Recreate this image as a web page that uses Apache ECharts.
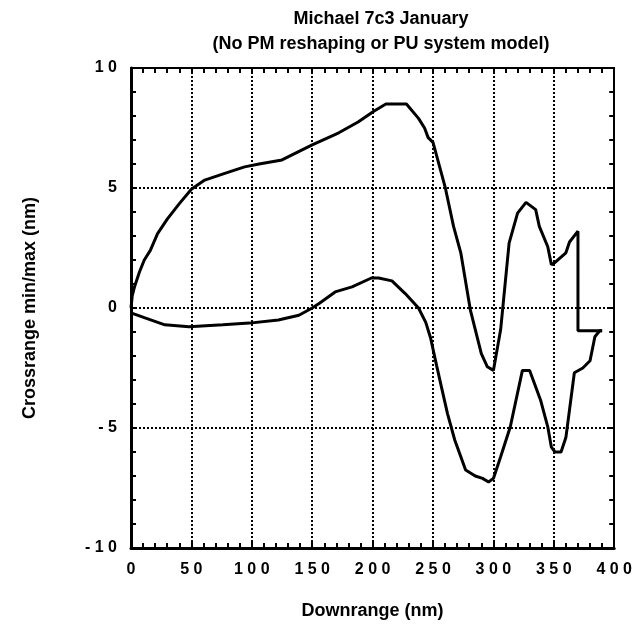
<!DOCTYPE html>
<html>
<head>
<meta charset="utf-8">
<script src="https://cdn.jsdelivr.net/npm/echarts@6/dist/echarts.min.js"></script>
<style>
  html, body { margin: 0; padding: 0; background: #fff; }
  #chart { width: 635px; height: 632px; }
</style>
</head>
<body>
<div id="chart"></div>
<script>
(function(){
  // max crossrange (upper curve), [downrange, crossrange]
  var maxLine = [
    [0, 0], [1, 0.5], [3, 0.9], [7, 1.5], [11, 2.0], [16, 2.4], [22, 3.1], [30, 3.7],
    [40, 4.35], [50, 4.95], [61, 5.33], [77, 5.6], [94, 5.88], [106, 6.0], [125, 6.17],
    [150, 6.8], [172, 7.3], [188, 7.75], [201, 8.2], [211, 8.5], [228, 8.5],
    [238, 7.9], [243, 7.5], [246, 7.1], [250, 6.9], [260, 5.05], [267, 3.4],
    [273, 2.3], [281, -0.1], [290, -1.9], [295, -2.45], [300, -2.6], [306, -0.9],
    [313, 2.7], [320, 3.95], [327, 4.4], [335, 4.1], [338, 3.4], [345, 2.55],
    [348, 1.8], [351, 1.9], [360, 2.3], [363, 2.75], [370, 3.2], [370, -0.95], [390, -0.95]
  ];
  // min crossrange (lower curve)
  var minLine = [
    [0, -0.2], [11, -0.4], [28, -0.7], [48, -0.78], [76, -0.7], [98, -0.63],
    [122, -0.5], [139, -0.3], [150, 0], [156, 0.2], [169, 0.67], [183, 0.88],
    [199, 1.25], [205, 1.25], [216, 1.13], [227, 0.6], [238, 0.0], [244, -0.6],
    [248, -1.25], [253, -2.4], [257, -3.3], [262, -4.4], [268, -5.5], [277, -6.75],
    [285, -7.0], [291, -7.1], [296, -7.25], [300, -7.1], [306, -6.2], [314, -4.95],
    [324, -2.6], [330, -2.6], [339, -3.83], [345, -4.95], [348, -5.8], [351, -6.0],
    [356, -6.0], [360, -5.4], [367, -2.7], [374, -2.5], [380, -2.2], [384, -1.2],
    [388, -0.95], [390, -0.95]
  ];
  var titleLines = ['Michael 7c3 January', '(No PM reshaping or PU system model)'];

  var font = 'Liberation Sans, Arial, sans-serif';
  function spaced(v){ return String(v).split('').join(' '); }

  var chart = echarts.init(document.getElementById('chart'));
  var tickStyle = { show: true, inside: true, length: 6, lineStyle: { color: '#000', width: 2 } };
  var minor = { show: true, splitNumber: 5, length: 5, lineStyle: { color: '#000', width: 2 } };
  var labelStyle = { formatter: spaced, margin: 14, fontFamily: font, fontWeight: 'bold', fontSize: 16, color: '#000' };
  var nameStyle = { fontFamily: font, fontWeight: 'bold', fontSize: 18, color: '#000' };
  var grid = { show: true, lineStyle: { color: '#000', type: [2, 2], width: 2 } };

  var option = {
    animation: false,
    title: {
      text: titleLines.join('\n'),
      left: 376, top: 2, textAlign: 'center',
      textStyle: { fontFamily: font, fontWeight: 'bold', fontSize: 18, lineHeight: 25, color: '#000' }
    },
    grid: { left: 131, right: 18, top: 68, bottom: 84 },
    xAxis: [{
      type: 'value', min: 0, max: 400, interval: 50,
      name: 'Downrange (nm)', nameLocation: 'middle', nameGap: 54, nameTextStyle: nameStyle,
      axisLine: { show: true, onZero: false, lineStyle: { color: '#000', width: 3 } },
      axisTick: tickStyle, minorTick: minor,
      axisLabel: labelStyle,
      splitLine: grid
    }, {
      type: 'value', min: 0, max: 400, interval: 50, position: 'top',
      axisLine: { show: true, onZero: false, lineStyle: { color: '#000', width: 2 } },
      axisTick: tickStyle, minorTick: minor,
      axisLabel: { show: false }, splitLine: { show: false }
    }],
    yAxis: [{
      type: 'value', min: -10, max: 10, interval: 5,
      name: 'Crossrange min/max (nm)', nameLocation: 'middle', nameGap: 92, nameTextStyle: nameStyle,
      axisLine: { show: true, onZero: false, lineStyle: { color: '#000', width: 3 } },
      axisTick: tickStyle, minorTick: minor,
      axisLabel: labelStyle,
      splitLine: grid
    }, {
      type: 'value', min: -10, max: 10, interval: 5, position: 'right',
      axisLine: { show: true, onZero: false, lineStyle: { color: '#000', width: 2 } },
      axisTick: tickStyle, minorTick: minor,
      axisLabel: { show: false }, splitLine: { show: false }
    }],
    series: [{
      name: 'max', type: 'line', data: maxLine, symbol: 'none',
      lineStyle: { color: '#000', width: 3 }
    }, {
      name: 'min', type: 'line', data: minLine, symbol: 'none',
      lineStyle: { color: '#000', width: 3 }
    }]
  };
  option && chart.setOption(option);
})();
</script>
</body>
</html>
